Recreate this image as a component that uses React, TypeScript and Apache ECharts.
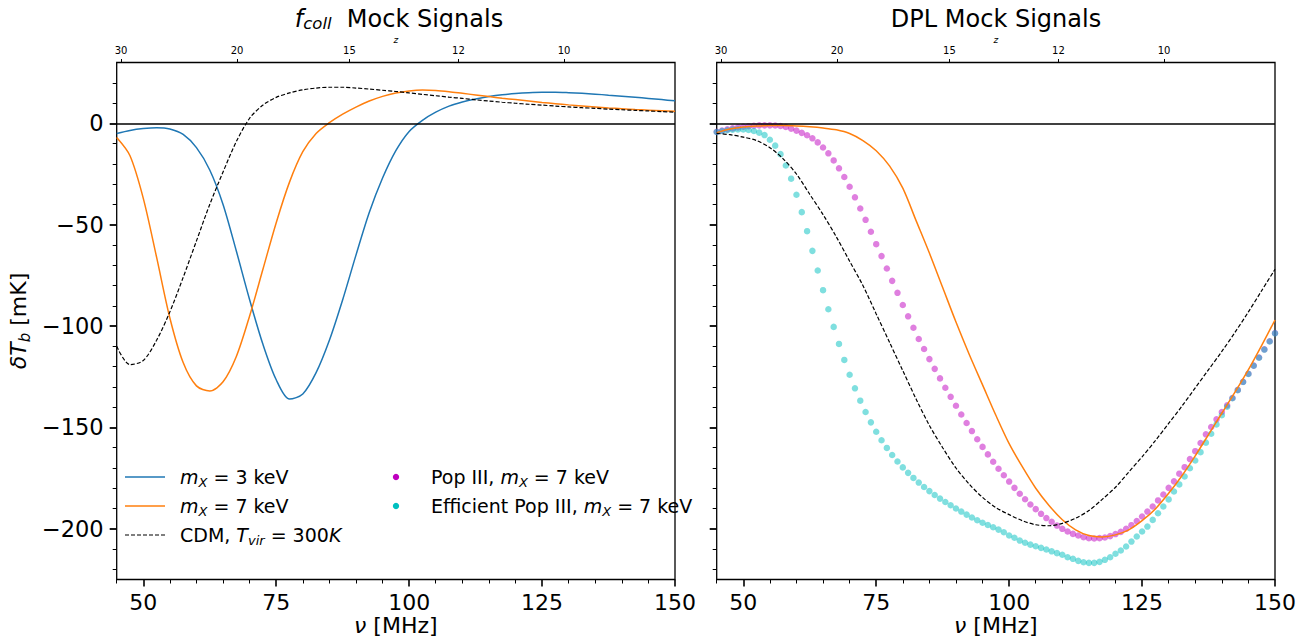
import React, { useEffect, useRef } from 'react';
import * as echarts from 'echarts';

const FONT = 'DejaVu Sans';

// frequency grid for the line curves (MHz)
const nuLine = [45, 47.5, 50, 52.5, 55, 57.5, 60, 62.5, 65, 67.5, 70, 72.5, 75, 77.5, 80, 82.5, 85, 87.5, 90, 92.5, 95, 97.5, 100, 102.5, 105, 107.5, 110, 112.5, 115, 117.5, 120, 122.5, 125, 127.5, 130, 132.5, 135, 137.5, 140, 142.5, 145, 147.5, 150];

// left panel (f_coll)
const blueLeft = [-5, -3.5, -2.6, -2.2, -2.8, -5.5, -12, -23, -40, -63, -87, -109, -126.5, -136, -133.5, -123, -107, -87, -65, -44, -27, -13.5, -4, 1.5, 5.5, 8.5, 10.5, 12, 13.2, 14.1, 14.7, 15.1, 15.3, 15.3, 15.1, 14.8, 14.4, 13.9, 13.4, 12.9, 12.3, 11.7, 11.1];
const orangeLeft = [-7, -16, -37, -66, -96, -118, -129.5, -132, -127.5, -115, -95, -72, -49, -29, -14, -5, 0.3, 4.5, 8, 11, 13.3, 15, 16, 16.4, 16.2, 15.6, 14.8, 14, 13.2, 12.4, 11.7, 11, 10.3, 9.7, 9.1, 8.6, 8.1, 7.6, 7.2, 6.8, 6.5, 6.2, 5.9];
const cdmLeft = [-110, -119, -117, -107, -93, -76, -58, -40, -24, -9, 2.5, 9, 12.8, 15, 16.5, 17.4, 17.8, 17.8, 17.4, 16.9, 16.3, 15.7, 15, 14.3, 13.6, 12.9, 12.3, 11.6, 11, 10.4, 9.9, 9.4, 9, 8.5, 8.1, 7.7, 7.4, 7, 6.7, 6.4, 6.1, 5.8, 5.5];

// right panel (DPL)
const orangeRight = [-4.6, -2.8, -1.8, -1.3, -1.1, -1.1, -1.3, -1.7, -2.3, -3.2, -5, -8.5, -13.5, -21, -32, -48, -64, -81, -98, -114, -129, -144, -158, -169.5, -180, -188.5, -195.5, -200.5, -203.3, -204, -203, -200.5, -196, -190.2, -182.5, -173.8, -164, -153.5, -143, -132.5, -121.5, -109.5, -97];
const cdmRight = [-5, -5.6, -6.8, -8.5, -12, -17.5, -25, -35, -45, -56, -68, -80, -94, -108, -122, -136, -149, -160, -170, -178, -184.5, -189.5, -193, -196, -198, -198.5, -197.3, -194.8, -191, -185.5, -179.5, -172, -164.5, -156.5, -148, -139.5, -130.5, -121.5, -112.5, -103, -93, -82.5, -72];

// scatter grid (MHz), one point per MHz 45..150
const nuDots = [45, 46, 47, 48, 49, 50, 51, 52, 53, 54, 55, 56, 57, 58, 59, 60, 61, 62, 63, 64, 65, 66, 67, 68, 69, 70, 71, 72, 73, 74, 75, 76, 77, 78, 79, 80, 81, 82, 83, 84, 85, 86, 87, 88, 89, 90, 91, 92, 93, 94, 95, 96, 97, 98, 99, 100, 101, 102, 103, 104, 105, 106, 107, 108, 109, 110, 111, 112, 113, 114, 115, 116, 117, 118, 119, 120, 121, 122, 123, 124, 125, 126, 127, 128, 129, 130, 131, 132, 133, 134, 135, 136, 137, 138, 139, 140, 141, 142, 143, 144, 145, 146, 147, 148, 149, 150];
const popIII = [-4.2, -3.6, -3.0, -2.5, -2.0, -1.7, -1.4, -1.2, -1.0, -1.0, -1.0, -1.1, -1.3, -1.8, -2.6, -3.6, -4.7, -5.9, -7.4, -9.4, -11.9, -14.8, -18.3, -22.2, -26.5, -31.3, -36.5, -42.0, -47.6, -53.5, -59.6, -65.5, -71.6, -77.7, -83.6, -89.6, -95.2, -100.8, -106.4, -111.3, -116.3, -121.1, -125.8, -130.4, -134.9, -139.3, -143.6, -147.8, -151.8, -155.8, -159.6, -163.3, -166.9, -170.4, -173.6, -176.7, -179.8, -182.7, -185.4, -188.0, -190.3, -192.6, -194.7, -196.5, -198.4, -200.0, -201.3, -202.5, -203.3, -204.1, -204.6, -204.8, -204.6, -204.3, -203.6, -202.6, -201.5, -200.0, -198.2, -196.2, -193.9, -191.5, -189.0, -186.0, -183.1, -179.8, -176.6, -172.8, -169.6, -165.6, -161.7, -157.7, -153.4, -149.8, -146.0, -142.4, -139.1, -135.5, -131.5, -127.5, -123.5, -119.5, -115.5, -111.5, -107.5, -103.5];
const effPopIII = [-4.3, -3.8, -3.4, -3.1, -3.0, -3.0, -3.3, -3.8, -4.6, -5.8, -8.1, -11.0, -15.2, -20.8, -27.3, -35.2, -43.8, -53.2, -62.9, -72.6, -82.3, -91.7, -100.4, -108.8, -116.7, -124.0, -130.7, -136.8, -142.4, -147.5, -152.1, -156.3, -160.1, -163.6, -166.8, -169.7, -172.4, -174.9, -177.2, -179.4, -181.4, -183.3, -185.1, -186.8, -188.4, -190.0, -191.5, -193.0, -194.4, -195.8, -197.0, -198.1, -199.2, -200.4, -201.7, -203.3, -204.4, -205.8, -206.9, -207.8, -208.6, -209.4, -210.2, -211.1, -212.0, -212.8, -214.0, -214.8, -215.8, -216.5, -216.8, -216.8, -216.3, -215.3, -214.0, -212.3, -210.7, -208.7, -206.3, -203.8, -201.3, -198.9, -195.6, -192.3, -189.0, -185.5, -181.6, -178.1, -174.2, -170.1, -166.3, -162.2, -157.5, -153.1, -148.5, -144.0, -139.8, -135.6, -131.6, -127.6, -123.6, -119.6, -115.6, -111.6, -107.6, -103.6];

// ticks
const xMajor = [50, 75, 100, 125, 150];
const xMinor = [45, 55, 60, 65, 70, 80, 85, 90, 95, 105, 110, 115, 120, 130, 135, 140, 145];
const yMajor = [-200, -150, -100, -50, 0];
const yMinor = [-220, -210, -190, -180, -170, -160, -140, -130, -120, -110, -90, -80, -70, -60, -40, -30, -20, -10, 10, 20];
const zTicks = [30, 20, 15, 12, 10];
const NU21 = 1420.4;
const zNu = zTicks.map((z) => NU21 / (1 + z));

const legendLabels = [
  '{i|m}{s|X}{n| = 3 keV}',
  '{i|m}{s|X}{n| = 7 keV}',
  '{n|CDM, }{i|T}{s|vir}{n| = 300}{i|K}',
  '{n|Pop III, }{i|m}{s|X}{n| = 7 keV}',
  '{n|Efficient Pop III, }{i|m}{s|X}{n| = 7 keV}',
];

const C_BLUE = '#1f77b4';
const C_ORANGE = '#ff7f0e';
const C_MAG = '#bf00bf';
const C_CYAN = '#00bfbf';

const legRich = {
  n: { fontFamily: FONT, fontSize: 19, color: '#000', lineHeight: 24 },
  i: { fontFamily: FONT, fontSize: 19, color: '#000', fontStyle: 'italic', lineHeight: 24 },
  s: { fontFamily: FONT, fontSize: 13, color: '#000', fontStyle: 'italic', lineHeight: 13, verticalAlign: 'bottom' },
};

function zip(xs: number[], ys: number[]) {
  return xs.map((x, i) => [x, ys[i]]);
}

function xAxesFor(gridIndex: number) {
  return [
    {
      type: 'value', gridIndex, position: 'bottom', min: 45, max: 150,
      axisLine: { show: false, onZero: false },
      splitLine: { show: false },
      axisTick: { show: true, length: 7, lineStyle: { width: 1.6, color: '#000' }, customValues: xMajor },
      axisLabel: { show: true, customValues: xMajor, fontSize: 22, lineHeight: 20, fontFamily: FONT, color: '#000', margin: 13 },
      name: '{i|ν}{n| [MHz]}', nameLocation: 'middle', nameGap: 35, nameMoveOverlap: false,
      nameTextStyle: {
        fontSize: 22, fontFamily: FONT, color: '#000', lineHeight: 22,
        rich: {
          n: { fontSize: 22, fontFamily: FONT, color: '#000', lineHeight: 22 },
          i: { fontSize: 22, fontFamily: FONT, color: '#000', fontStyle: 'italic', lineHeight: 22 },
        },
      },
    },
    {
      type: 'value', gridIndex, position: 'bottom', min: 45, max: 150,
      axisLine: { show: false, onZero: false },
      splitLine: { show: false },
      axisTick: { show: true, length: 4, lineStyle: { width: 1, color: '#000' }, customValues: xMinor },
      axisLabel: { show: false },
    },
    {
      type: 'value', gridIndex, position: 'top', min: 45, max: 150,
      axisLine: { show: false, onZero: false },
      splitLine: { show: false },
      axisTick: { show: true, length: 3.5, lineStyle: { width: 1, color: '#000' }, customValues: zNu },
      axisLabel: {
        show: true, customValues: zNu, fontSize: 10, fontFamily: FONT, color: '#000', margin: 7,
        formatter: (v: number) => String(Math.round(NU21 / v - 1)),
      },
      name: 'z', nameLocation: 'middle', nameGap: 18, nameMoveOverlap: false,
      nameTextStyle: { fontSize: 9, fontFamily: FONT, fontStyle: 'italic', color: '#000' },
    },
  ];
}

function yAxesFor(gridIndex: number, labels: boolean) {
  const major: any = {
    type: 'value', gridIndex, position: 'left', min: -225, max: 30,
    axisLine: { show: false, onZero: false },
    splitLine: { show: false },
    axisTick: { show: true, length: 7, lineStyle: { width: 1.8, color: '#000' }, customValues: yMajor },
    axisLabel: {
      show: labels, customValues: yMajor, fontSize: 22.5, fontFamily: FONT, color: '#000', margin: 13,
      formatter: (v: number) => (v < 0 ? '\u2212' + Math.abs(v) : String(v)),
    },
  };
  if (labels) {
    major.name = '{i|δT}{s|b}{n| [mK]}';
    major.nameLocation = 'middle';
    major.nameGap = 84;
    major.nameRotate = 90;
    major.nameTextStyle = {
      fontSize: 22, fontFamily: FONT, color: '#000',
      rich: {
        n: { fontSize: 22, fontFamily: FONT, color: '#000', lineHeight: 28 },
        i: { fontSize: 22, fontFamily: FONT, color: '#000', fontStyle: 'italic', lineHeight: 28 },
        s: { fontSize: 15, fontFamily: FONT, color: '#000', fontStyle: 'italic', lineHeight: 15, verticalAlign: 'bottom' },
      },
    };
  }
  const minor = {
    type: 'value', gridIndex, position: 'left', min: -225, max: 30,
    axisLine: { show: false, onZero: false },
    splitLine: { show: false },
    axisTick: { show: true, length: 4, lineStyle: { width: 1, color: '#000' }, customValues: yMinor },
    axisLabel: { show: false },
  };
  return [major, minor];
}

const zeroLine = {
  silent: true, symbol: 'none', label: { show: false },
  lineStyle: { color: '#000', width: 1.5, type: 'solid' },
  data: [{ yAxis: 0 }],
};

function lineSeries(name: string, xi: number, yi: number, ys: number[], color: string, dashed: boolean, mark = false) {
  const s: any = {
    name, type: 'line', xAxisIndex: xi, yAxisIndex: yi, data: zip(nuLine, ys),
    showSymbol: false, symbol: 'none', smooth: 0.3, z: 3,
    lineStyle: dashed ? { color, width: 1.2, type: [4, 2] } : { color, width: 1.5 },
    itemStyle: { color },
  };
  if (mark) s.markLine = zeroLine;
  return s;
}

function dotSeries(name: string, ys: number[], color: string) {
  return {
    name, type: 'scatter', xAxisIndex: 3, yAxisIndex: 2, data: zip(nuDots, ys),
    symbol: 'circle', symbolSize: 6.5, z: 2,
    itemStyle: { color, opacity: 0.5 },
  };
}

const titleRich = {
  n: { fontFamily: FONT, fontSize: 24, color: '#000', lineHeight: 26 },
  i: { fontFamily: FONT, fontSize: 24, color: '#000', fontStyle: 'italic', lineHeight: 26 },
  s: { fontFamily: FONT, fontSize: 16.5, color: '#000', fontStyle: 'italic', lineHeight: 14, verticalAlign: 'bottom' },
};

const legendX1 = 125, legendX2 = 165, legendTX = 180;
const legendMX = 396, legendTX2 = 431;
const legendRows = [477, 506, 535];

const graphics: any[] = [
  { type: 'text', x: 399, y: 19, style: { text: '{i|f}{s|coll}{n|  Mock Signals}', rich: titleRich, align: 'center', verticalAlign: 'middle' } },
  { type: 'text', x: 996, y: 19, style: { text: '{n|DPL Mock Signals}', rich: titleRich, align: 'center', verticalAlign: 'middle' } },
  { type: 'line', shape: { x1: legendX1, y1: legendRows[0], x2: legendX2, y2: legendRows[0] }, style: { stroke: C_BLUE, lineWidth: 1.5 } },
  { type: 'line', shape: { x1: legendX1, y1: legendRows[1], x2: legendX2, y2: legendRows[1] }, style: { stroke: C_ORANGE, lineWidth: 1.5 } },
  { type: 'line', shape: { x1: legendX1, y1: legendRows[2], x2: legendX2, y2: legendRows[2] }, style: { stroke: '#000', lineWidth: 1.2, lineDash: [4, 2] } },
  { type: 'text', x: legendTX, y: legendRows[0], style: { text: legendLabels[0], rich: legRich, verticalAlign: 'middle' } },
  { type: 'text', x: legendTX, y: legendRows[1], style: { text: legendLabels[1], rich: legRich, verticalAlign: 'middle' } },
  { type: 'text', x: legendTX, y: legendRows[2], style: { text: legendLabels[2], rich: legRich, verticalAlign: 'middle' } },
  { type: 'circle', shape: { cx: legendMX, cy: legendRows[0], r: 3.2 }, style: { fill: C_MAG } },
  { type: 'circle', shape: { cx: legendMX, cy: legendRows[1], r: 3.2 }, style: { fill: C_CYAN } },
  { type: 'text', x: legendTX2, y: legendRows[0], style: { text: legendLabels[3], rich: legRich, verticalAlign: 'middle' } },
  { type: 'text', x: legendTX2, y: legendRows[1], style: { text: legendLabels[4], rich: legRich, verticalAlign: 'middle' } },
];

const gridBase = { top: 62.5, width: 558.3, height: 517, show: true, borderColor: '#000', borderWidth: 1.3, backgroundColor: 'transparent', containLabel: false, outerBoundsMode: 'none' };

const option: any = {
  animation: false,
  backgroundColor: '#fff',
  textStyle: { fontFamily: FONT },
  grid: [
    { ...gridBase, left: 116.7 },
    { ...gridBase, left: 716.7 },
  ],
  xAxis: [...xAxesFor(0), ...xAxesFor(1)],
  yAxis: [...yAxesFor(0, true), ...yAxesFor(1, false)],
  series: [
    lineSeries('m_X = 3 keV', 0, 0, blueLeft, C_BLUE, false, true),
    lineSeries('m_X = 7 keV', 0, 0, orangeLeft, C_ORANGE, false),
    lineSeries('CDM, T_vir = 300K', 0, 0, cdmLeft, '#000', true),
    dotSeries('Pop III, m_X = 7 keV', popIII, C_MAG),
    dotSeries('Efficient Pop III, m_X = 7 keV', effPopIII, C_CYAN),
    lineSeries('m_X = 7 keV (DPL)', 3, 2, orangeRight, C_ORANGE, false, true),
    lineSeries('CDM (DPL)', 3, 2, cdmRight, '#000', true),
  ],
  graphic: graphics,
};

export default function App() {
  const ref = useRef<HTMLDivElement>(null);
  useEffect(() => {
    if (!ref.current) return;
    const chart = echarts.init(ref.current, null, { renderer: 'svg' });
    chart.setOption(option);
    return () => chart.dispose();
  }, []);
  return (
    <div
      ref={ref}
      style={{ position: 'fixed', left: 0, top: 0, width: 1307, height: 639, background: '#fff' }}
    />
  );
}
